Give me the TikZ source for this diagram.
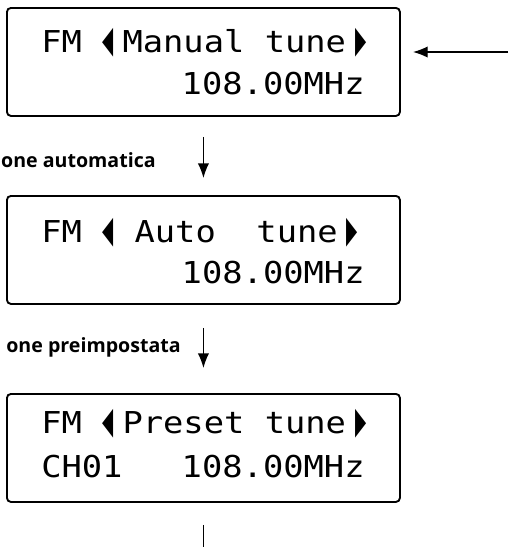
\documentclass[tikz,border=0pt]{standalone}
\usepackage{fontspec}
\usepackage{graphicx}
\usetikzlibrary{positioning,arrows.meta,calc}
\newfontfamily\lcdfont[FakeStretch=1.12]{DejaVu Sans Mono}
\newfontfamily\lcdsym{DejaVu Sans}
\newfontfamily\lblfont{Open Sans}
\newcommand\lcdl{\makebox[\fontcharwd\font`M][l]{{\lcdsym\scalebox{0.48}[1.25]{◀}}}}
\newcommand\lcdr{\makebox[\fontcharwd\font`M][r]{{\lcdsym\scalebox{0.48}[1.25]{▶}}}}
\tikzset{
  lcdbox/.style={draw, line width=1.4pt, rounded corners=3pt, minimum width=294.75pt, minimum height=81pt, inner sep=0pt},
  lcdline/.style={font=\lcdfont\fontsize{22.6}{27}\selectfont, inner sep=0pt},
  lbl/.style={font=\lblfont\bfseries\fontsize{14.7}{18}\selectfont, inner sep=0pt},
  arrow/.style={-{Latex[length=11pt,width=8.5pt]}, line width=1pt}
}

\begin{document}
\begin{tikzpicture}[x=0.75pt,y=-0.75pt]
    \useasboundingbox (0,0) rectangle (508,547);
    % displays
    \node[lcdbox, anchor=north west] (manual) at (6,7) {};
    \node[lcdbox, anchor=north west] (auto) at (6,195) {};
    \node[lcdbox, anchor=north west] (preset) at (6,393) {};
    \node[lcdline, anchor=base west] (manualtop) at ($(manual.north west)+(35,45)$) {FM \lcdl Manual tune\lcdr};
    \node[lcdline, anchor=base east] (manualfreq) at ($(manual.north east)+(-36,87)$) {108.00MHz};
    \node[lcdline, anchor=base west] (autotop) at ($(auto.north west)+(35,47)$) {FM \lcdl\hspace{0.4em}Auto\ \ tune\lcdr};
    \node[lcdline, anchor=base east] (autofreq) at ($(auto.north east)+(-36,88)$) {108.00MHz};
    \node[lcdline, anchor=base west] (presettop) at ($(preset.north west)+(35,40)$) {FM \lcdl Preset tune\lcdr};
    \node[lcdline, anchor=base west] (presetch) at ($(preset.north west)+(35,84)$) {CH01};
    \node[lcdline, anchor=base east] (presetfreq) at ($(preset.north east)+(-36,84)$) {108.00MHz};
    % labels
    \node[lbl, anchor=base east] (autolbl) at (156,167) {one automatica};
    \node[lbl, anchor=base east] (presetlbl) at (181,352) {one preimpostata};
    % arrows
    \coordinate (in) at (508,52);
    \coordinate (inend) at (413,52);
    \coordinate (a1s) at ($(manual.south)+(0,20)$);
    \coordinate (a1e) at ($(auto.north)+(0,-17)$);
    \coordinate (a2s) at ($(auto.south)+(0,23)$);
    \coordinate (a2e) at ($(preset.north)+(0,-25)$);
    \coordinate (outs) at ($(preset.south)+(0,22)$);
    \coordinate (oute) at ($(preset.south)+(0,50)$);
    \draw[arrow] (in) -- (inend);
    \draw[arrow] (a1s) -- (a1e);
    \draw[arrow] (a2s) -- (a2e);
    \draw[line width=1pt] (outs) -- (oute);
  \end{tikzpicture}
\end{document}
